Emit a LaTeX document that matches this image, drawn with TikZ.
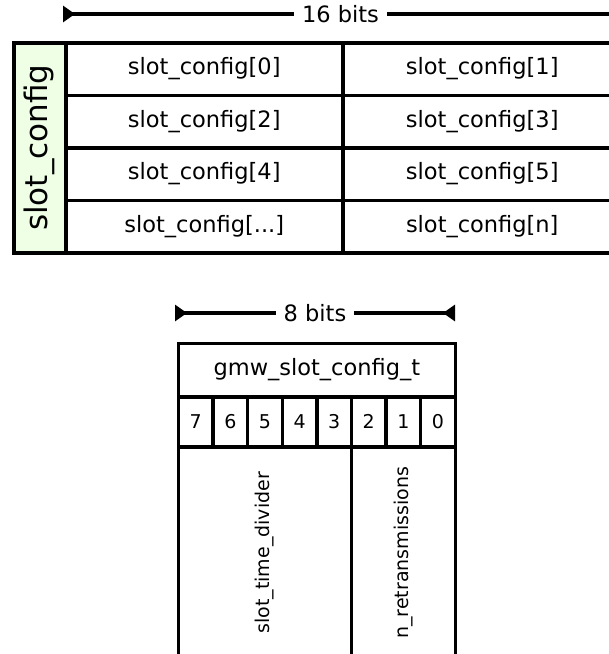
\documentclass[tikz,border=0pt]{standalone}
\usepackage{fontspec}
\setmainfont{DejaVu Sans}
\usetikzlibrary{arrows.meta}
\definecolor{labelgreen}{RGB}{238,255,230}
\tikzset{
  cell/.style={draw=black, line width=3.5pt, rectangle, inner sep=0pt, anchor=north west,
    font=\fontsize{22.5}{26}\selectfont},
  bitcell/.style={cell, font=\fontsize{19}{22}\selectfont},
  widthmark/.style={line width=3.5pt,
    arrows={Triangle[reversed,length=12pt,width=16pt]-Triangle[reversed,length=12pt,width=16pt]}},
  marklabel/.style={fill=white, inner xsep=8pt, inner ysep=2pt, font=\fontsize{22.5}{26}\selectfont}
}
\begin{document}
\begin{tikzpicture}[x=1pt, y=-1pt]
\useasboundingbox (0,0) rectangle (609,654);
\clip (0,0) rectangle (609,654);

% ---- 16-bit array of slot configurations ----
\coordinate (w16l) at (63,14);
\coordinate (w16r) at (618,14);
\draw[widthmark] (w16l) -- (w16r) node[midway, marklabel] {16 bits};

\node[cell, fill=labelgreen, minimum width=52pt, minimum height=210pt] (arr) at (12,41) {};
\node[rotate=90, font=\fontsize{31}{34}\selectfont] (arrlbl) at (arr.center) {slot\_config};

\node[cell, minimum width=277pt, minimum height=52.5pt] (c0) at (64,41) {slot\_config[0]};
\node[cell, minimum width=279pt, minimum height=52.5pt] (c1) at (341,41) {slot\_config[1]};
\node[cell, minimum width=277pt, minimum height=52.5pt] (c2) at (64,93.5) {slot\_config[2]};
\node[cell, minimum width=279pt, minimum height=52.5pt] (c3) at (341,93.5) {slot\_config[3]};
\node[cell, minimum width=277pt, minimum height=52.5pt] (c4) at (64,146) {slot\_config[4]};
\node[cell, minimum width=279pt, minimum height=52.5pt] (c5) at (341,146) {slot\_config[5]};
\node[cell, minimum width=277pt, minimum height=52.5pt] (c6) at (64,198.5) {slot\_config[...]};
\node[cell, minimum width=279pt, minimum height=52.5pt] (c7) at (341,198.5) {slot\_config[n]};

% ---- 8-bit gmw_slot_config_t layout ----
\coordinate (w8l) at (175,313);
\coordinate (w8r) at (455,313);
\draw[widthmark] (w8l) -- (w8r) node[midway, marklabel] {8 bits};

\node[cell, minimum width=276.8pt, minimum height=53.3pt] (hdr) at (176.7,341.7) {gmw\_slot\_config\_t};

\foreach \i/\b in {0/7,1/6,2/5,3/4,4/3,5/2,6/1,7/0}{
  \node[bitcell, minimum width=34.6pt, minimum height=50pt] (bit\b) at ({176.7+34.6*\i},395) {\b};
}

\node[cell, minimum width=173pt, minimum height=212pt] (fdiv) at (176.7,445) {};
\node[rotate=90, font=\fontsize{19}{22}\selectfont] (fdivlbl) at (fdiv.center) {slot\_time\_divider};
\node[cell, minimum width=103.8pt, minimum height=212pt] (fret) at (349.7,445) {};
\node[rotate=90, font=\fontsize{19}{22}\selectfont] (fretlbl) at (fret.center) {n\_retransmissions};
\end{tikzpicture}
\end{document}
